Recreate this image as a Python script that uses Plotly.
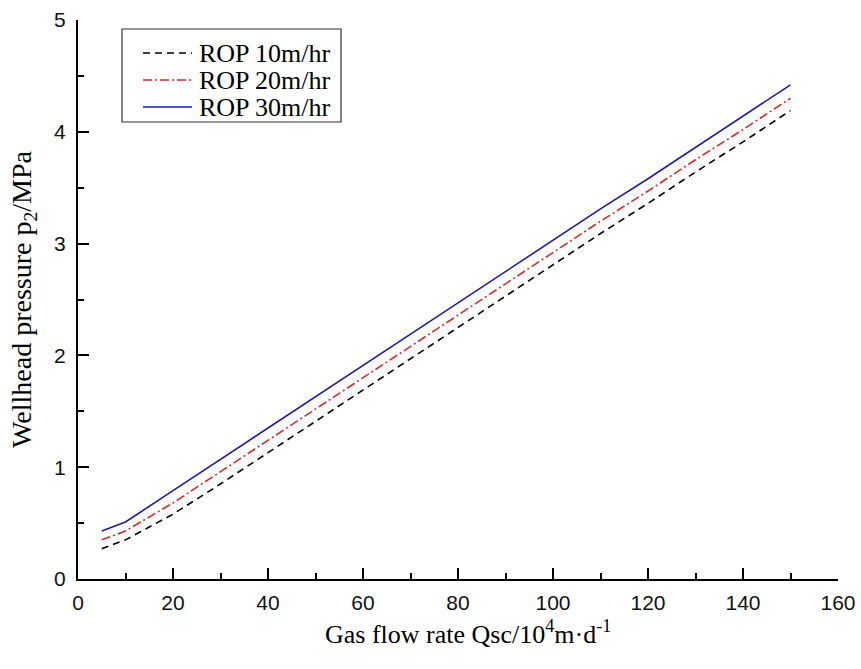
import plotly.graph_objects as go

x_vals = [5, 10, 20, 30, 40, 50, 60, 70, 80, 90, 100, 110, 120, 130, 140, 150]
rop10 = [0.27, 0.35, 0.58, 0.85, 1.13, 1.41, 1.69, 1.97, 2.25, 2.53, 2.81, 3.09, 3.36, 3.64, 3.91, 4.19]
rop20 = [0.35, 0.43, 0.68, 0.96, 1.24, 1.52, 1.80, 2.08, 2.36, 2.64, 2.92, 3.20, 3.47, 3.75, 4.02, 4.30]
rop30 = [0.43, 0.51, 0.79, 1.07, 1.35, 1.63, 1.91, 2.19, 2.47, 2.75, 3.03, 3.31, 3.58, 3.86, 4.14, 4.42]
names = ["ROP 10m/hr", "ROP 20m/hr", "ROP 30m/hr"]
colors = ["black", "#d42a2a", "#1a1aaa"]
dashes = ["7px,5px", "9px,3px,2px,3px", "solid"]
series = [rop10, rop20, rop30]
x_title = "Gas flow rate Qsc/10<sup>4</sup>m·d<sup>-1</sup>"
y_title = "Wellhead pressure p<sub>2</sub>/MPa"

W, H = 861, 669
ML, MR, MT, MB = 78, 23, 20, 90
PW, PH = W - ML - MR, H - MT - MB

def px_x(p):
    return (p - ML) / PW

def px_y(p):
    return (H - MB - p) / PH

fig = go.Figure()
for name, ys, c, d in zip(names, series, colors, dashes):
    fig.add_trace(go.Scatter(x=x_vals, y=ys, name=name, mode="lines",
                             line=dict(color=c, width=1.6, dash=d), showlegend=False))

# custom legend (box, sample lines, labels)
fig.add_shape(type="rect", xref="paper", yref="paper",
              x0=px_x(122), x1=px_x(341), y0=px_y(122), y1=px_y(29),
              line=dict(color="#333333", width=1.2), fillcolor="white", layer="below")
row_y = [53, 80, 107]
for name, c, d, ry in zip(names, colors, dashes, row_y):
    fig.add_shape(type="line", xref="paper", yref="paper",
                  x0=px_x(143), x1=px_x(192), y0=px_y(ry), y1=px_y(ry),
                  line=dict(color=c, width=1.6, dash=d))
    fig.add_annotation(xref="paper", yref="paper", x=px_x(197), y=px_y(ry),
                       xanchor="left", yanchor="middle", showarrow=False, text=name,
                       font=dict(family="Liberation Serif, Times New Roman", size=26, color="black"))

# x-axis title
fig.add_annotation(xref="paper", yref="paper", x=px_x(468), y=px_y(632),
                   xanchor="center", yanchor="middle", showarrow=False, text=x_title,
                   font=dict(family="Liberation Serif, Times New Roman", size=26, color="black"))

axis_common = dict(
    showline=True, linecolor="black", linewidth=2.2,
    ticks="inside", tickcolor="black", tickwidth=2, ticklen=11,
    showgrid=False, zeroline=False, mirror=False, automargin=False,
    tickfont=dict(family="Liberation Sans, Arial", size=21, color="#111111"),
)

fig.update_xaxes(range=[0, 160], tickvals=[0, 20, 40, 60, 80, 100, 120, 140, 160],
                 minor=dict(ticks="inside", ticklen=6, tickwidth=2, tickcolor="black", dtick=10, tick0=0),
                 ticklabelstandoff=4,
                 **axis_common)
fig.update_yaxes(range=[0, 5], tickvals=[0, 1, 2, 3, 4, 5],
                 minor=dict(ticks="inside", ticklen=6, tickwidth=2, tickcolor="black", dtick=0.5, tick0=0),
                 title=dict(text=y_title,
                            font=dict(family="Liberation Serif, Times New Roman", size=28, color="black"),
                            standoff=14),
                 ticklabelstandoff=6,
                 **axis_common)

fig.update_layout(
    width=W, height=H,
    margin=dict(l=ML, r=MR, t=MT, b=MB, autoexpand=False),
    paper_bgcolor="white", plot_bgcolor="white",
    showlegend=False,
)

fig.write_html("out.html")
